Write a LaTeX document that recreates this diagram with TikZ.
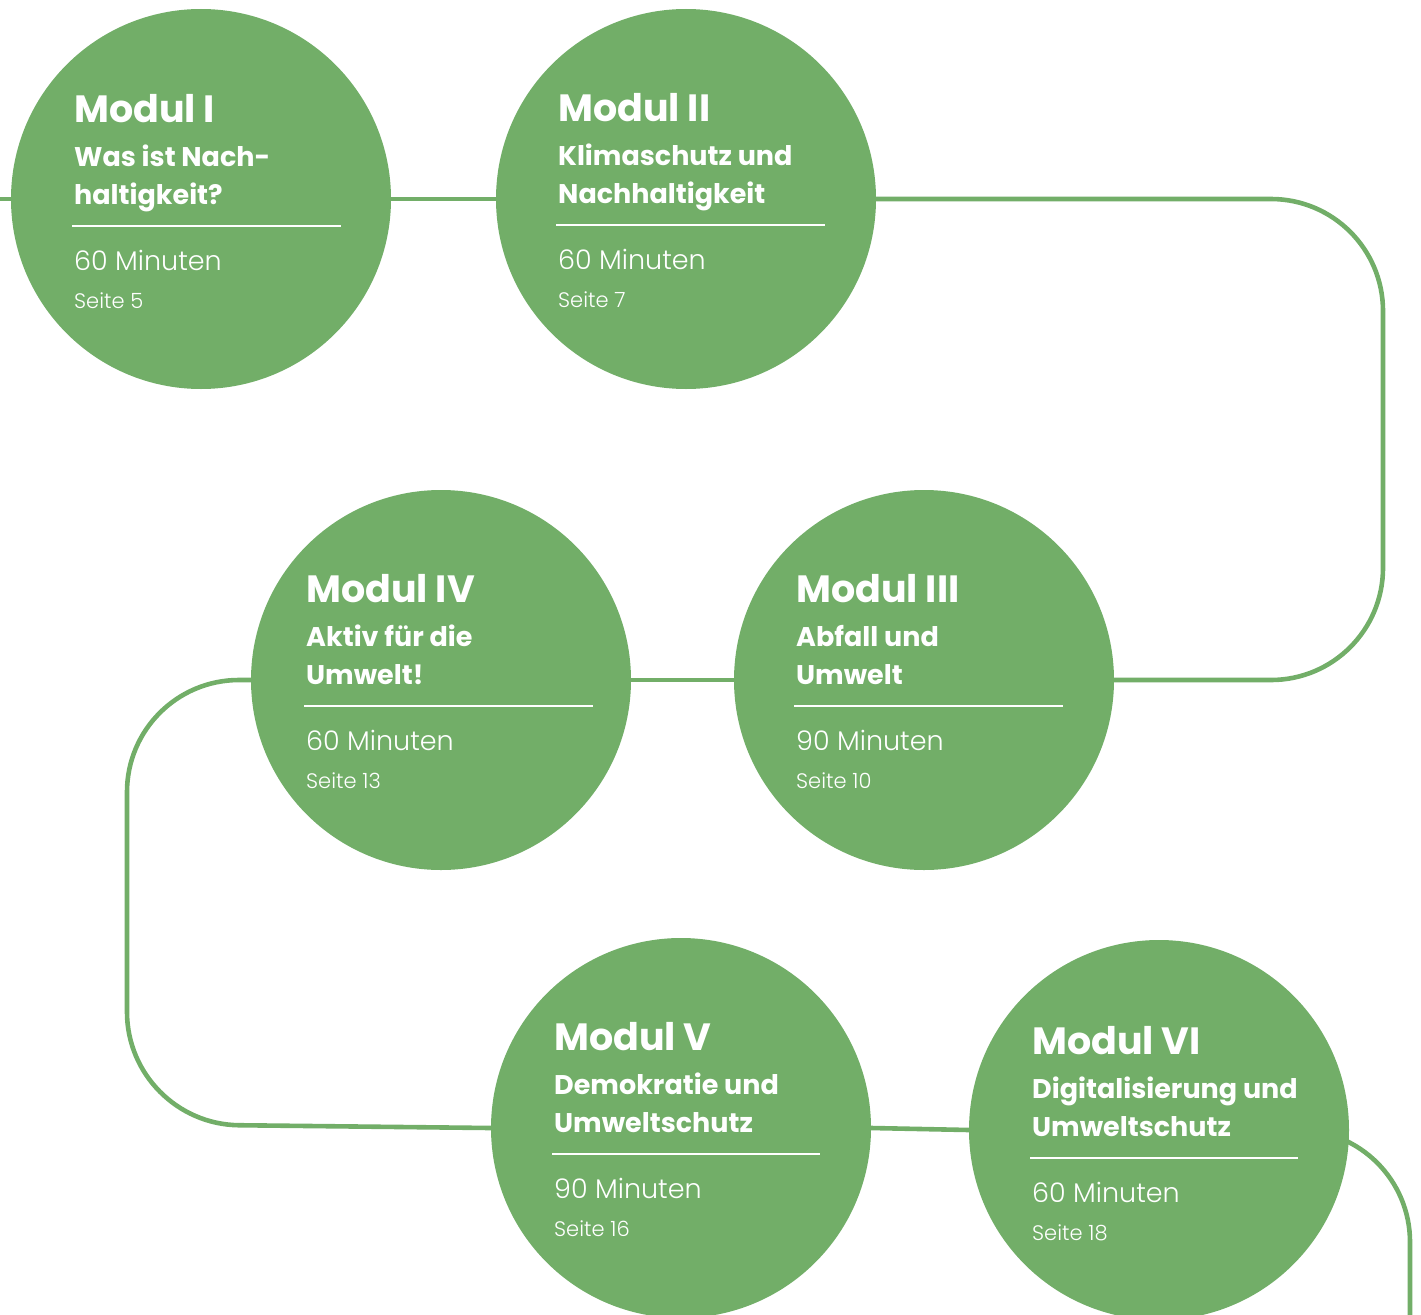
\documentclass[tikz,border=0pt]{standalone}
\usepackage{fontspec}
\setmainfont{Poppins}
\newfontfamily\lightfont{Poppins Light}
\definecolor{grn}{HTML}{72AE68}
\pgfdeclarelayer{background}
\pgfsetlayers{background,main}
\tikzset{
  disc/.style={circle, fill=grn, minimum size=380pt, inner sep=0pt, outer sep=0pt},
  conn/.style={draw=grn, line width=4.6pt, rounded corners=112pt},
  ttl/.style={anchor=base west, inner sep=0pt, text=white, font=\fontsize{38}{38}\selectfont\bfseries},
  subt/.style={anchor=base west, inner sep=0pt, text=white, font=\fontsize{27}{27}\selectfont\bfseries},
  mins/.style={anchor=base west, inner sep=0pt, text=white, font=\fontsize{27}{27}\selectfont\lightfont},
  pgno/.style={anchor=base west, inner sep=0pt, text=white, font=\fontsize{21}{21}\selectfont\lightfont},
  sep/.style={draw=white, line width=2.8pt}
}
\newcommand\modtext[9]{%
  \node[ttl] (t#1) at ({#2},{#3}) {#5};
  \node[subt] (a#1) at ({#2},{#3+44}) {#6};
  \node[subt] (b#1) at ({#2},{#3+82}) {#7};
  \draw[sep] ({#2-2},{#3+104}) -- ({#4},{#3+104});
  \node[mins] (m#1) at ({#2},{#3+148}) {#8};
  \node[pgno] (p#1) at ({#2},{#3+186}) {#9};
}
\begin{document}
\begin{tikzpicture}[x=1pt,y=-1pt]
\clip (0,0) rectangle (1421,1314);
\node[disc] (c1) at (201,199) {};
\node[disc] (c2) at (686,199) {};
\node[disc] (c3) at (924,680) {};
\node[disc] (c4) at (441,680) {};
\node[disc] (c5) at (681,1128) {};
\node[disc] (c6) at (1159,1130) {};
\coordinate (l0) at (0,199);
\coordinate (r1) at (1383,199);
\coordinate (r2) at (1383,680);
\coordinate (q1) at (127,680);
\coordinate (q2) at (127,1124);
\coordinate (e1) at (1410,1130);
\coordinate (e2) at (1410,1330);
\draw[conn] (l0) -- (c1.west);
\draw[conn] (c1.east) -- (c2.west);
\draw[conn] (c2.east) -- (r1) -- (r2) -- (c3.east);
\draw[conn] (c3.west) -- (c4.east);
\draw[conn] (c4.west) -- (q1) -- (q2) -- (c5.west);
\draw[conn] (c5.east) -- (c6.west);
\begin{pgfonlayer}{background}
\draw[conn] (c6.center) -- (e1) -- (e2);
\end{pgfonlayer}
\modtext{1}{74}{122}{341}{Modul I}{Was ist Nach-}{haltigkeit?}{60 Minuten}{Seite 5}
\modtext{2}{558}{121}{825}{Modul II}{Klimaschutz und}{Nachhaltigkeit}{60 Minuten}{Seite 7}
\modtext{3}{796}{602}{1063}{Modul III}{Abfall und}{Umwelt}{90 Minuten}{Seite 10}
\modtext{4}{306}{602}{593}{Modul IV}{Aktiv für die}{Umwelt!}{60 Minuten}{Seite 13}
\modtext{5}{554}{1050}{820}{Modul V}{Demokratie und}{Umweltschutz}{90 Minuten}{Seite 16}
\modtext{6}{1032}{1054}{1298}{Modul VI}{Digitalisierung und}{Umweltschutz}{60 Minuten}{Seite 18}
\end{tikzpicture}
\end{document}
